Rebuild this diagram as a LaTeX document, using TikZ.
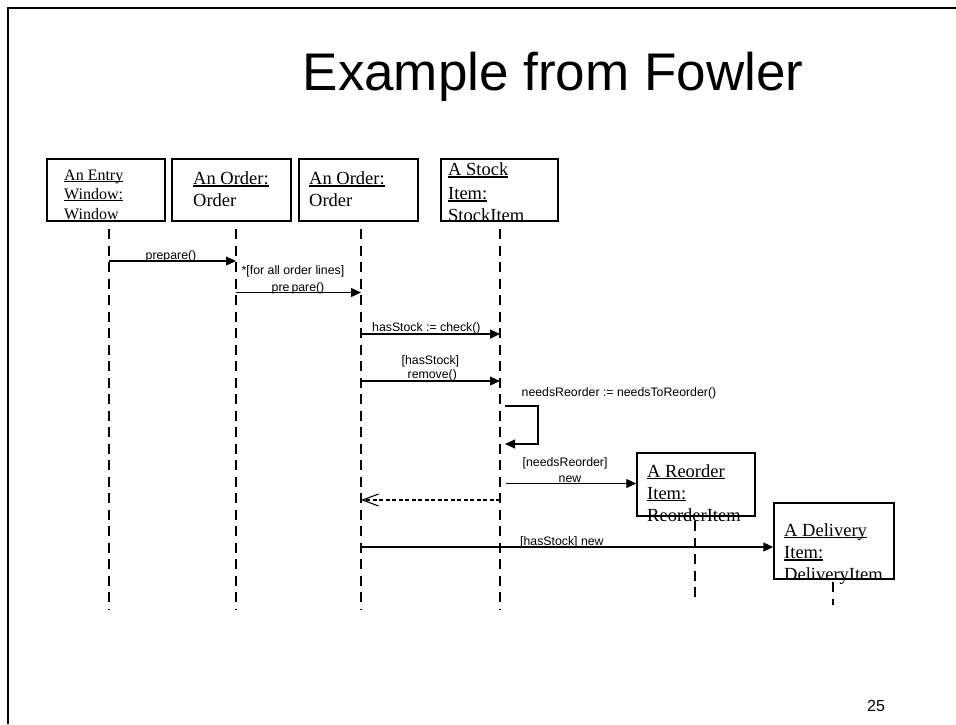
\documentclass[tikz,border=0pt]{standalone}
\usepackage{fontspec}
\setmainfont{Liberation Serif}
\newfontfamily\labelfont{Liberation Sans}
\usetikzlibrary{arrows.meta}

% underlined object name with a solid rule under the text
\newcommand\objname[1]{\setbox0\hbox{#1}\rlap{\rule[-2.2pt]{\wd0}{1.3pt}}\box0}

\tikzset{
  objbox/.style={draw, line width=1.5pt, inner sep=0pt},
  objtext/.style={anchor=base west, inner sep=0pt, font=\fontsize{18.5}{22}\selectfont},
  smalltext/.style={anchor=base west, inner sep=0pt, font=\fontsize{16}{19}\selectfont},
  lifeline/.style={line width=1.3pt, dash pattern=on 10pt off 6.5pt},
  msg/.style={line width=1.2pt, -{Triangle[length=10pt,width=9pt]}},
  reply/.style={line width=1.1pt, dash pattern=on 4pt off 2.5pt, -{Straight Barb[length=16pt,width=12pt,line width=1.1pt]}},
  lbl/.style={inner sep=0pt, font=\labelfont\fontsize{12.3}{14}\selectfont},
  lblw/.style={lbl, anchor=base west},
  lblc/.style={lbl, anchor=base},
}

\begin{document}
\begin{tikzpicture}[x=1pt,y=-1pt]
\useasboundingbox (0,0) rectangle (956,724);

% slide frame (top and left edges)
\draw[line width=2pt] (7.5,724) -- (7.5,7.5) -- (956,7.5);

% title and page number
\node[anchor=base, inner sep=0pt, font=\labelfont\fontsize{53}{60}\selectfont] (title) at (553,90) {Example from Fowler};
\node[anchor=base, inner sep=0pt, font=\labelfont\fontsize{16}{19}\selectfont] (page) at (876,711) {25};

% object boxes
\node[objbox, minimum width=118pt, minimum height=62pt] (entry)  at (106,190) {};
\node[objbox, minimum width=119pt, minimum height=62pt] (order1) at (231.5,190) {};
\node[objbox, minimum width=119pt, minimum height=62pt] (order2) at (358.5,190) {};
\node[objbox, minimum width=117pt, minimum height=62pt] (stock)  at (499.5,190) {};
\node[objbox, minimum width=118pt, minimum height=63pt] (reorder) at (696,484.5) {};
\node[objbox, minimum width=120pt, minimum height=76pt] (delivery) at (834,541) {};

% object names
\node[smalltext] (t1a) at (64,180) {\objname{An Entry}};
\node[smalltext] (t1b) at (64,199) {\objname{Window:}};
\node[smalltext] (t1c) at (64,219) {Window};
\node[objtext] (t2a) at (193,184.5) {\objname{An Order:}};
\node[objtext] (t2b) at (193,206) {Order};
\node[objtext] (t3a) at (309,184.5) {\objname{An Order:}};
\node[objtext] (t3b) at (309,206) {Order};
\node[objtext] (t4a) at (448,175.5) {\objname{A Stock}};
\node[objtext] (t4b) at (448,199.5) {\objname{Item:}};
\node[objtext] (t4c) at (448,221) {StockItem};
\node[objtext] (t5a) at (647,477) {\objname{A Reorder}};
\node[objtext] (t5b) at (647,499) {\objname{Item:}};
\node[objtext] (t5c) at (647,521) {ReorderItem};
\node[objtext] (t6a) at (784,536) {\objname{A Delivery}};
\node[objtext] (t6b) at (784,558.5) {\objname{Item:}};
\node[objtext] (t6c) at (784,580) {DeliveryItem};

% lifelines
\coordinate (l1t) at (109,229); \coordinate (l1b) at (109,609);
\coordinate (l2t) at (236,229); \coordinate (l2b) at (236,609);
\coordinate (l3t) at (361,229); \coordinate (l3b) at (361,609);
\coordinate (l4t) at (500,229); \coordinate (l4b) at (500,609);
\coordinate (l5t) at (695,521); \coordinate (l5b) at (695,599);
\coordinate (l6t) at (833,582); \coordinate (l6b) at (833,605);
\foreach \i in {1,...,6} \draw[lifeline] (l\i t) -- (l\i b);

% messages
\coordinate (m1a) at (109,261);   \coordinate (m1b) at (236,261);
\coordinate (m2a) at (236,292.5); \coordinate (m2b) at (361,292.5);
\coordinate (m3a) at (361,334);   \coordinate (m3b) at (500,334);
\coordinate (m4a) at (361,381);   \coordinate (m4b) at (500,381);
\coordinate (s1)  at (505,406);   \coordinate (s2)  at (538,406);
\coordinate (s3)  at (538,444);   \coordinate (s4)  at (505,444);
\coordinate (m6a) at (506,483.5);
\coordinate (m7a) at (500,500);   \coordinate (m7b) at (361,500);
\coordinate (m8a) at (361,547);

\draw[msg] (m1a) -- (m1b);
\draw[msg] (m2a) -- (m2b);
\draw[msg] (m3a) -- (m3b);
\draw[msg] (m4a) -- (m4b);
\draw[msg] (s1) -- (s2) -- (s3) -- (s4);
\draw[msg] (m6a) -- (reorder.west |- m6a);
\draw[reply] (m7a) -- (m7b);
\draw[msg] (m8a) -- (delivery.west |- m8a);

% message labels
\node[lblc] (k1) at (171,259) {prepare()};
\node[lblw] (k2a) at (241.5,274) {*[for all order lines]};
\node[lblw] (k2b) at (271.5,291) {pre\,pare()};
\node[lblw] (k3) at (372,331) {hasStock := check()};
\node[lblw] (k4a) at (401.5,364) {[hasStock]};
\node[lblw] (k4b) at (407.5,378) {remove()};
\node[lblw] (k5) at (521.5,396) {needsReorder := needsToReorder()};
\node[lblw] (k6a) at (522.5,466) {[needsReorder]};
\node[lblc] (k6b) at (570,482) {new};
\node[lblw] (k8) at (520,545) {[hasStock] new};
\end{tikzpicture}
\end{document}
